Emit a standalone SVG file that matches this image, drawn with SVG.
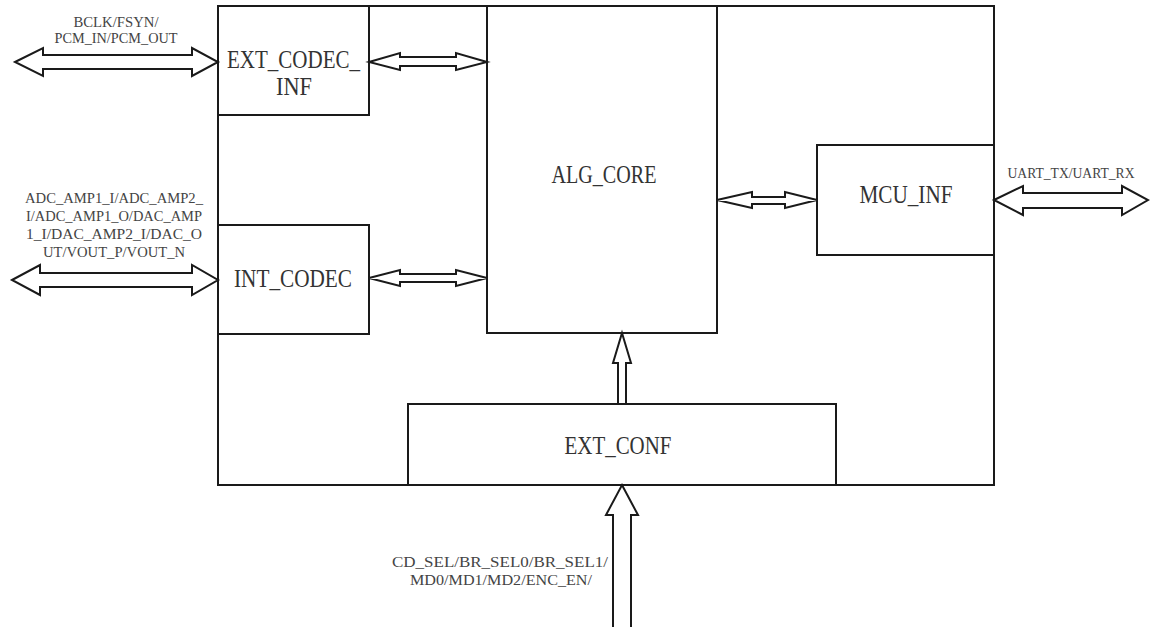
<svg xmlns="http://www.w3.org/2000/svg" width="1150" height="627" viewBox="0 0 1150 627">
<style>
.box{fill:#fff;stroke:#1a1a1a;stroke-width:2}
.arr{fill:#fff;stroke:#1a1a1a;stroke-width:2;stroke-linejoin:miter}
.big{font-family:"Liberation Serif",serif;font-size:25px;fill:#333}
.sm{font-family:"Liberation Serif",serif;font-size:15px;fill:#444}
</style>
<rect x="0" y="0" width="1150" height="627" fill="#fff"/>
<g id="outer"><rect class="box" x="218" y="6" width="776" height="479"/></g>
<g id="ext_codec_inf">
<rect class="box" x="218" y="6" width="151" height="109"/>
<text class="big" x="227" y="68" textLength="133" lengthAdjust="spacingAndGlyphs">EXT_CODEC_</text>
<text class="big" x="294" y="95" text-anchor="middle" textLength="36" lengthAdjust="spacingAndGlyphs">INF</text>
</g>
<g id="int_codec">
<rect class="box" x="218" y="225" width="151" height="109"/>
<text class="big" x="293" y="287" text-anchor="middle" textLength="118" lengthAdjust="spacingAndGlyphs">INT_CODEC</text>
</g>
<g id="alg_core">
<rect class="box" x="487" y="6" width="230" height="327"/>
<text class="big" x="604" y="183" text-anchor="middle" textLength="105" lengthAdjust="spacingAndGlyphs">ALG_CORE</text>
</g>
<g id="mcu_inf">
<rect class="box" x="817" y="145" width="177" height="110"/>
<text class="big" x="906" y="203" text-anchor="middle" textLength="93" lengthAdjust="spacingAndGlyphs">MCU_INF</text>
</g>
<g id="ext_conf">
<rect class="box" x="408" y="404" width="428" height="81"/>
<text class="big" x="618" y="454" text-anchor="middle" textLength="107" lengthAdjust="spacingAndGlyphs">EXT_CONF</text>
</g>
<g id="connectors">
<polygon class="arr" points="15,62 43,48 43,55 192,55 192,48 218,62 192,76 192,69 43,69 43,76"/>
<polygon class="arr" points="369,62 400,53 400,57 456,57 456,53 487,62 456,70 456,66 400,66 400,70"/>
<polygon class="arr" points="12,280 40,265 40,273 192,273 192,265 218,280 192,295 192,287 40,287 40,295"/>
<polygon class="arr" points="369,278 400,270 400,274 456,274 456,270 487,278 456,286 456,282 400,282 400,286"/>
<polygon class="arr" points="717,200 752,192 752,197 785,197 785,192 817,200 785,208 785,204 752,204 752,208"/>
<polygon class="arr" points="994,200 1023,186 1023,193 1122,193 1122,186 1148,200 1122,215 1122,208 1023,208 1023,215"/>
<polygon class="arr" points="622,333 631,363 626,363 626,404 618,404 618,363 613,363"/>
<polygon class="arr" points="622,485 638,515 631,515 631,630 613,630 613,515 606,515"/>
</g>
<g id="labels">
<text class="sm" x="116" y="27" text-anchor="middle" textLength="85" lengthAdjust="spacingAndGlyphs">BCLK/FSYN/</text>
<text class="sm" x="116" y="43" text-anchor="middle" textLength="123" lengthAdjust="spacingAndGlyphs">PCM_IN/PCM_OUT</text>
<text class="sm" x="114" y="203" text-anchor="middle" textLength="178" lengthAdjust="spacingAndGlyphs">ADC_AMP1_I/ADC_AMP2_</text>
<text class="sm" x="114" y="221" text-anchor="middle" textLength="176" lengthAdjust="spacingAndGlyphs">I/ADC_AMP1_O/DAC_AMP</text>
<text class="sm" x="114" y="239" text-anchor="middle" textLength="176" lengthAdjust="spacingAndGlyphs">1_I/DAC_AMP2_I/DAC_O</text>
<text class="sm" x="114" y="257" text-anchor="middle" textLength="142" lengthAdjust="spacingAndGlyphs">UT/VOUT_P/VOUT_N</text>
<text class="sm" x="1071" y="178" text-anchor="middle" textLength="127" lengthAdjust="spacingAndGlyphs">UART_TX/UART_RX</text>
<text class="sm" x="500" y="567" text-anchor="middle" textLength="216" lengthAdjust="spacingAndGlyphs">CD_SEL/BR_SEL0/BR_SEL1/</text>
<text class="sm" x="501" y="585" text-anchor="middle" textLength="182" lengthAdjust="spacingAndGlyphs">MD0/MD1/MD2/ENC_EN/</text>
</g>
</svg>
